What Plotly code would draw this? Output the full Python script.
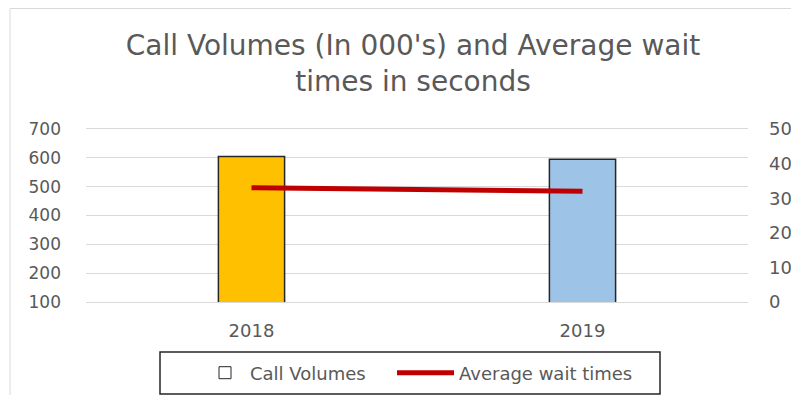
import plotly.graph_objects as go

years = ["2018", "2019"]
call_volumes = [605, 595]
wait_times = [33, 32]
bar_colors = ["#FFC000", "#9DC3E6"]
left_ticks = [100, 200, 300, 400, 500, 600, 700]
right_ticks = [0, 10, 20, 30, 40, 50]

FONT = "DejaVu Sans"
GREY = "#595959"
GRID = "#d9d9d9"

# the page body adds an 8px margin on every side, so the figure is drawn
# 16px smaller (no scrollbars) and screen positions are shifted by 8px
OFF = 8
W, H = 799 - 2 * OFF, 403 - 2 * OFF
PLOT_X0, PLOT_X1 = 86 - OFF, 748 - OFF
PLOT_Y0, PLOT_Y1 = 129 - OFF, 302 - OFF
L, R, T, B = PLOT_X0, W - PLOT_X1, PLOT_Y0, H - PLOT_Y1
pw, ph = PLOT_X1 - PLOT_X0, PLOT_Y1 - PLOT_Y0


def px_x(x):
    # screen x -> paper x
    return (x - OFF - PLOT_X0) / pw


def px_y(y):
    # screen y -> paper y
    return (PLOT_Y1 - (y - OFF)) / ph


fig = go.Figure()

fig.add_trace(
    go.Bar(
        x=years,
        y=call_volumes,
        width=0.2,
        marker=dict(color=bar_colors, line=dict(color="#262626", width=1.5)),
        showlegend=False,
        hoverinfo="x+y",
    )
)
# legend entry for the bars (white box, like Excel's vary-colors legend)
fig.add_trace(
    go.Bar(
        x=[None],
        y=[None],
        name="Call Volumes",
        legend="legend",
        marker=dict(color="white", line=dict(color="#262626", width=1)),
    )
)
fig.add_trace(
    go.Scatter(
        x=years,
        y=wait_times,
        name="Average wait times",
        mode="lines",
        yaxis="y2",
        legend="legend2",
        line=dict(color="#C00000", width=5),
    )
)

# legends are placed against the container so they don't push the margins
legend_style = dict(
    orientation="h",
    xanchor="left",
    yanchor="middle",
    yref="container",
    y=1 - (373 - OFF) / H,
    font=dict(size=18, color=GREY),
    bgcolor="rgba(0,0,0,0)",
)

fig.update_layout(
    width=W,
    height=H,
    margin=dict(l=L, r=R, t=T, b=B),
    paper_bgcolor="white",
    plot_bgcolor="white",
    font=dict(family=FONT, color=GREY, size=18),
    title=dict(
        text="Call Volumes (In 000's) and Average wait<br>times in seconds",
        font=dict(size=28, color=GREY, family=FONT),
        x=px_x(413),
        xref="paper",
        xanchor="center",
        y=1 - 47 / H,
        yref="container",
        yanchor="top",
    ),
    xaxis=dict(
        showgrid=False,
        showline=True,
        mirror=True,
        linecolor=GRID,
        linewidth=1,
        zeroline=False,
        ticks="",
        tickfont=dict(size=18, color=GREY),
        ticklabelstandoff=12,
        automargin=False,
    ),
    yaxis=dict(
        range=[100, 700],
        tickvals=left_ticks,
        showgrid=True,
        gridcolor=GRID,
        gridwidth=1,
        zeroline=False,
        showline=False,
        ticks="",
        tickfont=dict(size=17, color=GREY),
        ticklabelstandoff=24,
        automargin=False,
    ),
    yaxis2=dict(
        range=[0, 50],
        tickvals=right_ticks,
        overlaying="y",
        side="right",
        showgrid=False,
        zeroline=False,
        showline=False,
        ticks="",
        tickfont=dict(size=18, color=GREY),
        ticklabelstandoff=20,
        automargin=False,
    ),
    legend=dict(legend_style, x=px_x(200), itemwidth=40),
    legend2=dict(legend_style, x=px_x(392), itemwidth=57),
    shapes=[
        # chart area border
        dict(
            type="rect",
            xref="paper",
            yref="paper",
            x0=px_x(10),
            x1=px_x(820),
            y0=px_y(430),
            y1=(ph + PLOT_Y0 - 0.5) / ph,
            line=dict(color=GRID, width=1),
            fillcolor="rgba(0,0,0,0)",
            layer="below",
        ),
        # legend frame
        dict(
            type="rect",
            xref="paper",
            yref="paper",
            x0=px_x(160),
            x1=px_x(660),
            y0=px_y(394),
            y1=px_y(352),
            line=dict(color="#262626", width=1.5),
            fillcolor="rgba(0,0,0,0)",
        ),
    ],
)

fig.write_html("out.html")
